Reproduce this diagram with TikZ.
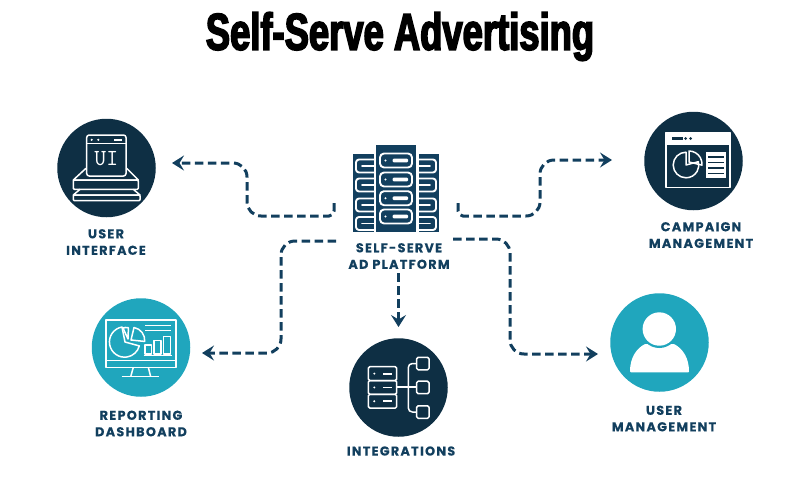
\documentclass[tikz,border=0pt]{standalone}
\usepackage{fontspec}
\usetikzlibrary{arrows.meta}
\newfontfamily\titlefont[FakeStretch=0.70,FakeBold=3]{Liberation Sans}
\newfontfamily\lblfont[LetterSpace=10,FakeBold=0.3]{Poppins}
\definecolor{navy}{HTML}{0E2F44}
\definecolor{teal}{HTML}{20A6BD}
\definecolor{ink}{HTML}{123F5E}
\begin{document}
\begin{tikzpicture}[x=1pt,y=-1pt,
    disc/.style={circle,minimum size=98.5pt,inner sep=0pt},
    dark/.style={disc,fill=navy},
    light/.style={disc,fill=teal},
    lbl/.style={text=ink,align=center,font=\lblfont\fontsize{12.8}{16.5}\selectfont\bfseries,inner sep=0pt},
    flow/.style={draw=ink,line width=3pt,dash pattern=on 8.5pt off 4.5pt,rounded corners=14pt,
        -{Stealth[length=12pt,width=15pt,inset=4.5pt]}},
    ico/.style={draw=white,line width=1.5pt,line join=round}]
    \useasboundingbox (0,0) rectangle (800,480);

    % heading
    \node[font=\titlefont\fontsize{52}{56}\selectfont\bfseries,inner sep=0pt] (heading) at (400,36.5) {Self-Serve Advertising};

    % outer discs
    \node[dark] (ui) at (106.5,168) {};
    \node[dark] (campaign) at (693.5,161) {};
    \node[light] (reporting) at (141,347.5) {};
    \node[dark] (integrations) at (398.5,387.5) {};
    \node[light] (usermgmt) at (659.5,342.5) {};

    % captions
    \node[lbl] (uilbl) at (106,242) {USER\\INTERFACE};
    \node[lbl] (campaignlbl) at (701,235) {CAMPAIGN\\MANAGEMENT};
    \node[lbl] (reportinglbl) at (141,423.5) {REPORTING\\DASHBOARD};
    \node[lbl] (integrationslbl) at (401,451) {INTEGRATIONS};
    \node[lbl] (usermgmtlbl) at (664,418.5) {USER\\MANAGEMENT};
    \node[lbl] (platformlbl) at (399,256) {SELF-SERVE\\AD PLATFORM};

    % server rack in the middle
    \fill[ink] (375.7,145) rectangle (416,231.7);
    \fill[ink] (352.7,154) rectangle (374,231.7);
    \fill[ink] (419,154) rectangle (439.3,231.7);
    \foreach \y in {160.5,179.5,198.2,216.5} {
        \draw[ico,line width=1.9pt,rounded corners=4pt] (380,\y-7) rectangle (412,\y+7);
        \fill[white] (385.5,\y) circle[radius=1.2];
        \fill[white,rounded corners=1pt] (392.7,\y-1.8) rectangle (408,\y+1.8);
    }
    \foreach \y in {166,185,205,223.5} {
        \draw[ico,line width=1.9pt,rounded corners=3pt] (374,\y-6.5) -- (356,\y-6.5) -- (356,\y+6.5) -- (374,\y+6.5);
        \draw[ico,line width=1.9pt,line cap=round] (374,\y) -- (362,\y);
        \draw[ico,line width=1.9pt,rounded corners=3pt] (419,\y-6.5) -- (436,\y-6.5) -- (436,\y+6.5) -- (419,\y+6.5);
        \draw[ico,line width=1.9pt,line cap=round] (419,\y) -- (430,\y);
    }

    % ui icon
    \draw[ico] (86,168.3) -- (73.3,180) -- (138.3,180) -- (126.7,168.3);
    \draw[ico,rounded corners=1pt] (73.3,180) rectangle (138.3,189.3);
    \draw[ico] (80,189.3) -- (73.3,195) -- (140,195) -- (133.3,189.3);
    \draw[ico,rounded corners=1pt] (73.3,195) rectangle (140,200.7);
    \draw[ico,fill=navy,rounded corners=2.5pt] (86.7,135) rectangle (126,176);
    \draw[ico] (86.7,143.5) -- (126,143.5);
    \fill[white] (91.7,139.8) circle[radius=1.2] (98.3,139.8) circle[radius=1.2];
    \fill[white] (114,138.9) rectangle (121.7,140.7);
    \node[text=white,font=\ttfamily\fontsize{23}{23}\selectfont,inner sep=0pt] (uiword) at (106.3,158.5) {UI};

    % campaign icon
    \draw[ico] (666,132.3) rectangle (730,187.3);
    \fill[white] (666,132.3) rectangle (730,145);
    \fill[navy] (672.3,137.2) rectangle (683.3,139.8);
    \fill[navy] (685.5,138.5) circle[radius=1.5] (690.5,138.5) circle[radius=1.5];
    \draw[ico] (686,165) -- (686,152.2) arc[start angle=-90,delta angle=-285,radius=12.8] -- cycle;
    \draw[ico] (689,151) arc[start angle=-90,delta angle=95,radius=13] -- (689,162) -- cycle;
    \fill[white] (706,151.7) rectangle (726,178.3);
    \foreach \y in {157,162.5,168,173.5} {
        \fill[navy] (708,\y-0.7) rectangle (724,\y+0.7);
    }

    % reporting icon
    \draw[ico] (106,320) rectangle (176,367.3);
    \draw[ico] (106,360.7) -- (176,360.7);
    \draw[ico] (133.3,367.3) -- (130.7,376.7);
    \draw[ico] (148.3,367.3) -- (150.7,376.7);
    \draw[ico] (121.7,376.7) -- (159.3,376.7);
    \draw[ico] (125,342) -- (122,327) arc[start angle=-100,delta angle=-245,radius=15.2] -- cycle;
    \draw[ico] (128,339) -- (123,328) arc[start angle=-110,delta angle=35,radius=9] -- cycle;
    \draw[ico] (131,340) -- (134,327.5) arc[start angle=-80,delta angle=85,radius=13] -- cycle;
    \draw[ico] (145,325.7) -- (170.7,325.7) (145,330.7) -- (170.7,330.7);
    \draw[ico] (145,345) rectangle (151.7,354);
    \draw[ico] (154,340.7) rectangle (161,354);
    \draw[ico] (163.3,336.7) rectangle (170.7,354);
    \draw[ico] (143.5,355.5) -- (172,355.5);

    % integrations icon
    \foreach \y in {366.7,380.5,394.3} {
        \draw[ico,rounded corners=1.5pt] (368.3,\y) rectangle (396.7,\y+13.8);
        \fill[white] (374.3,\y+6.9) circle[radius=1.1];
        \fill[white] (383.3,\y+6) rectangle (391.7,\y+7.8);
    }
    \draw[ico] (396.7,387) -- (416.7,387);
    \draw[ico,rounded corners=4pt] (416.7,363.5) -- (408.3,363.5) -- (408.3,412) -- (416.7,412);
    \foreach \y in {357.3,381.2,405.8} {
        \draw[ico,fill=navy,rounded corners=1.5pt] (416.7,\y) rectangle (429,\y+12.5);
    }

    % user icon
    \fill[white,rounded corners=0.8pt] (630,372.3) .. controls (630,358) and (636,349) .. (645,344)
        -- (674,344) .. controls (683,349) and (689,358) .. (689,372.3) -- cycle;
    \fill[teal] (659.3,329) circle[radius=19];
    \fill[white] (659.3,329) circle[radius=16.7];

    % connector ends
    \coordinate (uistart) at (334,203);
    \coordinate (uitip) at (172,163);
    \coordinate (campaignstart) at (458,203);
    \coordinate (campaigntip) at (612,160);
    \coordinate (reportingstart) at (336,241);
    \coordinate (reportingtip) at (202,353);
    \coordinate (usermgmtstart) at (453,239);
    \coordinate (usermgmttip) at (598,354);
    \coordinate (integrationsstart) at (398.5,273);
    \coordinate (integrationstip) at (398.5,327);

    \draw[flow] (uistart) [rounded corners=5pt] -- ++(0,13) [rounded corners=14pt] -- ++(-87,0) -- ++(0,-53) -- (uitip);
    \draw[flow] (campaignstart) [rounded corners=5pt] -- ++(0,13) [rounded corners=14pt] -- ++(82,0) -- ++(0,-56) -- (campaigntip);
    \draw[flow] (reportingstart) -- ++(-55,0) -- ++(0,112) -- (reportingtip);
    \draw[flow] (usermgmtstart) -- ++(57,0) -- ++(0,115) -- (usermgmttip);
    \draw[flow] (integrationsstart) -- (integrationstip);
\end{tikzpicture}
\end{document}
